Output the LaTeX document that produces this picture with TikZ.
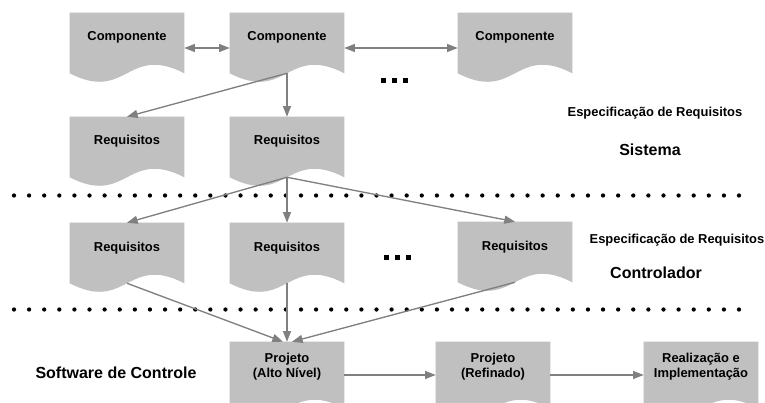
\documentclass[tikz,border=0pt]{standalone}
\usepackage{fontspec}
\setmainfont{Liberation Sans}
\usetikzlibrary{arrows.meta,calc}
\definecolor{boxgray}{RGB}{192,192,192}
\definecolor{arrgray}{RGB}{128,128,128}
\newcommand\docshape[1]{\fill[boxgray] (#1.north west) -- (#1.north east) -- (#1.south east) .. controls +(-57,-29.5) and +(57,29.5) .. (#1.south west) -- cycle;}
\begin{document}
\begin{tikzpicture}[x=0.75pt,y=-0.75pt,
  boxarea/.style={rectangle, draw=none, inner sep=0pt, minimum width=85.5pt, minimum height=45pt},
  tallbox/.style={boxarea, minimum height=49.5pt},
  boxtxt/.style={font=\fontsize{9.7}{11.25}\selectfont\bfseries, align=center, inner sep=0pt},
  lbl/.style={font=\fontsize{9.7}{11.25}\selectfont\bfseries, inner sep=0pt},
  big/.style={font=\fontsize{12}{14}\selectfont\bfseries, inner sep=0pt},
  conn/.style={draw=arrgray, line width=1pt, -{Triangle[length=8pt,width=6pt]}},
  bconn/.style={draw=arrgray, line width=1pt, {Triangle[length=8pt,width=6pt]}-{Triangle[length=8pt,width=6pt]}},
  dot/.style={fill=black},
  sq/.style={fill=black}
]
\clip (0,0) rectangle (765,403);
\fill[white] (0,0) rectangle (765,403);

% box areas
\node[boxarea] (c1) at (127,43) {};
\node[boxarea] (c2) at (287,43) {};
\node[boxarea] (c3) at (515,43) {};
\node[boxarea] (r2a) at (127,147) {};
\node[boxarea] (r2b) at (287,147) {};
\node[boxarea] (r3a) at (127,253) {};
\node[boxarea] (r3b) at (287,253) {};
\node[boxarea] (r3c) at (515,252) {};
\node[tallbox] (p1) at (287,375) {};
\node[tallbox] (p2) at (493,375) {};
\node[tallbox] (p3) at (701,375) {};

\foreach \n in {c1,c2,c3,r2a,r2b,r3a,r3b,r3c,p1,p2,p3} {\docshape{\n}}

% box texts
\node[boxtxt] (c1t) at ($(c1.north)+(0,25)$) {Componente};
\node[boxtxt] (c2t) at ($(c2.north)+(0,25)$) {Componente};
\node[boxtxt] (c3t) at ($(c3.north)+(0,25)$) {Componente};
\node[boxtxt] (r2at) at ($(r2a.north)+(0,24)$) {Requisitos};
\node[boxtxt] (r2bt) at ($(r2b.north)+(0,24)$) {Requisitos};
\node[boxtxt] (r3at) at ($(r3a.north)+(0,25)$) {Requisitos};
\node[boxtxt] (r3bt) at ($(r3b.north)+(0,25)$) {Requisitos};
\node[boxtxt] (r3ct) at ($(r3c.north)+(0,25)$) {Requisitos};
\node[boxtxt] (p1t) at ($(p1.north)+(0,25)$) {Projeto\\(Alto Nível)};
\node[boxtxt] (p2t) at ($(p2.north)+(0,25)$) {Projeto\\(Refinado)};
\node[boxtxt] (p3t) at ($(p3.north)+(0,25)$) {Realização e\\Implementação};

% dotted separators
\foreach \i in {0,...,48} {
  \fill[dot] (14+15.104*\i,195.5) circle[radius=1.6pt];
  \fill[dot] (14+15.104*\i,309.5) circle[radius=1.6pt];
}

% ellipses
\foreach \x in {383,394,405} {\fill[sq] (\x-2.5,78.5) rectangle ++(5,5);}
\foreach \x in {386,397,408} {\fill[sq] (\x-2.5,254.5) rectangle ++(5,5);}

% connectors
\draw[bconn] ($(c1.east)+(0,5)$) -- ($(c2.west)+(0,5)$);
\draw[bconn] ($(c2.east)+(0,5)$) -- ($(c3.west)+(0,5)$);
\draw[conn] (c2.south) -- (r2a.north);
\draw[conn] (c2.south) -- (r2b.north);
\draw[conn] (r2b.south) -- (r3a.north);
\draw[conn] (r2b.south) -- (r3b.north);
\draw[conn] (r2b.south) -- (r3c.north);
\draw[conn] (r3a.south) -- ($(p1.north)+(-4,0)$);
\draw[conn] (r3b.south) -- (p1.north);
\draw[conn] (r3c.south) -- ($(p1.north)+(5,0)$);
\draw[conn] (p1.east) -- (p2.west);
\draw[conn] (p2.east) -- (p3.west);

% labels
\node[lbl] (esp1) at (655,113) {Especificação de Requisitos};
\node[big] (sis) at (650,150) {Sistema};
\node[lbl] (esp2) at (677,240) {Especificação de Requisitos};
\node[big] (ctl) at (656,273) {Controlador};
\node[big] (sw) at (116,373) {Software de Controle};
\end{tikzpicture}
\end{document}
